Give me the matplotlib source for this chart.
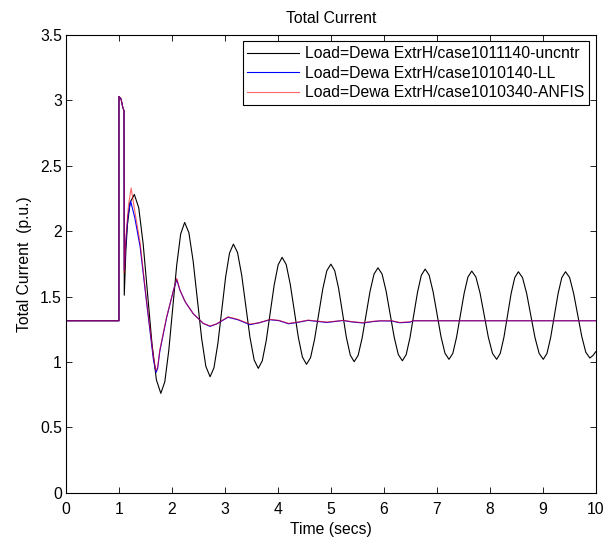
import numpy as np
import matplotlib
matplotlib.use("Agg")
from matplotlib import pyplot as plt

plt.rcParams['font.family'] = ['Liberation Sans', 'DejaVu Sans']
plt.rcParams['font.size'] = 11.3

# black trace, uncontrolled case
t_uncntr = [0.0, 1.0, 1.0, 1.04, 1.07, 1.095, 1.10, 1.13, 1.16, 1.21, 1.29,
            1.373, 1.457, 1.540, 1.623, 1.707, 1.79,
            1.865, 1.94, 2.015, 2.09, 2.165, 2.24,
            2.32, 2.40, 2.48, 2.56, 2.64, 2.72,
            2.793, 2.867, 2.94, 3.013, 3.087, 3.16,
            3.238, 3.317, 3.395, 3.473, 3.552, 3.63,
            3.705, 3.78, 3.855, 3.93, 4.005, 4.08,
            4.157, 4.233, 4.31, 4.387, 4.463, 4.54,
            4.617, 4.693, 4.77, 4.847, 4.923, 5.00,
            5.073, 5.147, 5.22, 5.293, 5.367, 5.44,
            5.515, 5.59, 5.665, 5.74, 5.815, 5.89,
            5.967, 6.043, 6.12, 6.197, 6.273, 6.35,
            6.422, 6.493, 6.565, 6.637, 6.708, 6.78,
            6.855, 6.93, 7.005, 7.08, 7.155, 7.23,
            7.302, 7.373, 7.445, 7.517, 7.588, 7.66,
            7.738, 7.817, 7.895, 7.973, 8.052, 8.13,
            8.198, 8.267, 8.335, 8.403, 8.472, 8.54,
            8.618, 8.697, 8.775, 8.853, 8.932, 9.01,
            9.08, 9.15, 9.22, 9.29, 9.36, 9.43,
            9.507, 9.583, 9.66, 9.737, 9.813, 9.89,
            9.95, 10.0]
i_uncntr = [1.315, 1.315, 3.03, 3.01, 2.95, 2.92, 1.51, 1.85, 2.05, 2.22, 2.281,
            2.179, 1.901, 1.520, 1.140, 0.862, 0.760,
            0.848, 1.087, 1.414, 1.740, 1.979, 2.067,
            1.988, 1.772, 1.477, 1.182, 0.966, 0.887,
            0.955, 1.141, 1.394, 1.648, 1.833, 1.901,
            1.837, 1.663, 1.426, 1.188, 1.015, 0.951,
            1.008, 1.163, 1.376, 1.588, 1.743, 1.800,
            1.745, 1.595, 1.391, 1.186, 1.037, 0.982,
            1.033, 1.174, 1.365, 1.557, 1.697, 1.748,
            1.698, 1.561, 1.375, 1.188, 1.052, 1.002,
            1.050, 1.182, 1.361, 1.541, 1.672, 1.720,
            1.672, 1.542, 1.364, 1.187, 1.057, 1.009,
            1.056, 1.184, 1.360, 1.535, 1.663, 1.710,
            1.664, 1.537, 1.365, 1.192, 1.066, 1.020,
            1.065, 1.189, 1.358, 1.526, 1.650, 1.695,
            1.650, 1.526, 1.358, 1.189, 1.065, 1.020,
            1.065, 1.188, 1.355, 1.523, 1.645, 1.690,
            1.645, 1.523, 1.355, 1.188, 1.065, 1.020,
            1.065, 1.188, 1.355, 1.523, 1.645, 1.690,
            1.646, 1.525, 1.360, 1.195, 1.074, 1.030,
            1.05, 1.078]

# blue trace, lead-lag controller
t_ll = [0.0, 1.0, 1.0, 1.04, 1.07, 1.095, 1.10, 1.13, 1.17, 1.22, 1.30, 1.40,
        1.52, 1.65, 1.70, 1.73, 1.77, 1.90, 2.03, 2.09, 2.15, 2.25, 2.40, 2.59,
        2.72, 2.84, 3.06, 3.25, 3.47, 3.65, 3.85, 4.02, 4.20, 4.38, 4.57, 4.75,
        4.92, 5.05, 5.23, 5.40, 5.61, 5.78, 5.93, 6.15, 6.30, 6.49, 6.56, 10.0]
i_ll = [1.315, 1.315, 3.03, 3.01, 2.95, 2.92, 1.70, 1.92, 2.12, 2.23, 2.10, 1.88,
        1.46, 1.02, 0.92, 0.95, 1.08, 1.34, 1.55, 1.63, 1.55, 1.46, 1.37, 1.295,
        1.272, 1.29, 1.342, 1.322, 1.285, 1.30, 1.323, 1.316, 1.292, 1.303, 1.318, 1.31,
        1.302, 1.308, 1.317, 1.306, 1.298, 1.308, 1.314, 1.313, 1.300, 1.304, 1.315, 1.315]

# red trace, ANFIS controller
t_anfis = [0.0, 1.0, 1.0, 1.04, 1.07, 1.095, 1.10, 1.13, 1.18, 1.23, 1.30, 1.40,
           1.52, 1.65, 1.70, 1.73, 1.77, 1.90, 2.03, 2.09, 2.15, 2.25, 2.40, 2.59,
           2.72, 2.84, 3.06, 3.25, 3.47, 3.65, 3.85, 4.02, 4.20, 4.38, 4.57, 4.75,
           4.92, 5.05, 5.23, 5.40, 5.61, 5.78, 5.93, 6.15, 6.30, 6.49, 6.56, 10.0]
i_anfis = [1.315, 1.315, 3.03, 3.01, 2.95, 2.92, 1.68, 1.95, 2.20, 2.33, 2.15, 1.91,
           1.47, 1.04, 0.933, 0.96, 1.09, 1.345, 1.55, 1.64, 1.55, 1.46, 1.37, 1.295,
           1.275, 1.29, 1.345, 1.325, 1.29, 1.30, 1.325, 1.318, 1.295, 1.305, 1.32, 1.312,
           1.305, 1.31, 1.318, 1.308, 1.30, 1.31, 1.315, 1.315, 1.302, 1.307, 1.315, 1.315]

labels = ["Load=Dewa ExtrH/case1011140-uncntr",
          "Load=Dewa ExtrH/case1010140-LL",
          "Load=Dewa ExtrH/case1010340-ANFIS"]

xticks = np.arange(0, 11, 1)
yticks = [0, 0.5, 1, 1.5, 2, 2.5, 3, 3.5]
yticklabels = ["0", "0.5", "1", "1.5", "2", "2.5", "3", "3.5"]

fig = plt.figure(figsize=(6.14, 5.43), dpi=100)
ax = fig.add_axes([0.1075, 0.0926, 0.8627, 0.8429])

ax.plot(t_uncntr, i_uncntr, color='black', lw=0.8, label=labels[0])
ax.plot(t_ll, i_ll, color='blue', lw=0.8, label=labels[1])
ax.plot(t_anfis, i_anfis, color='red', lw=0.8, alpha=0.6, label=labels[2])

ax.set_xlim(0, 10)
ax.set_ylim(0, 3.5)
ax.set_xticks(xticks)
ax.set_yticks(yticks)
ax.set_yticklabels(yticklabels)
ax.tick_params(direction='in', top=True, right=True, length=4, width=0.6, pad=3)
ax.tick_params(axis='x', pad=7)
for s in ax.spines.values():
    s.set_linewidth(0.8)

ax.set_title("Total Current", fontsize=11.3, pad=9)
ax.set_xlabel("Time (secs)", labelpad=3)
ax.set_ylabel("Total Current  (p.u.)", labelpad=6)

leg = ax.legend(loc='upper right', fancybox=False, framealpha=1, edgecolor='black',
                borderaxespad=0.4, handlelength=3.3, handletextpad=0.4,
                borderpad=0.3, labelspacing=0.3)
leg.get_frame().set_linewidth(0.8)

fig.savefig("out.png", dpi=100)
